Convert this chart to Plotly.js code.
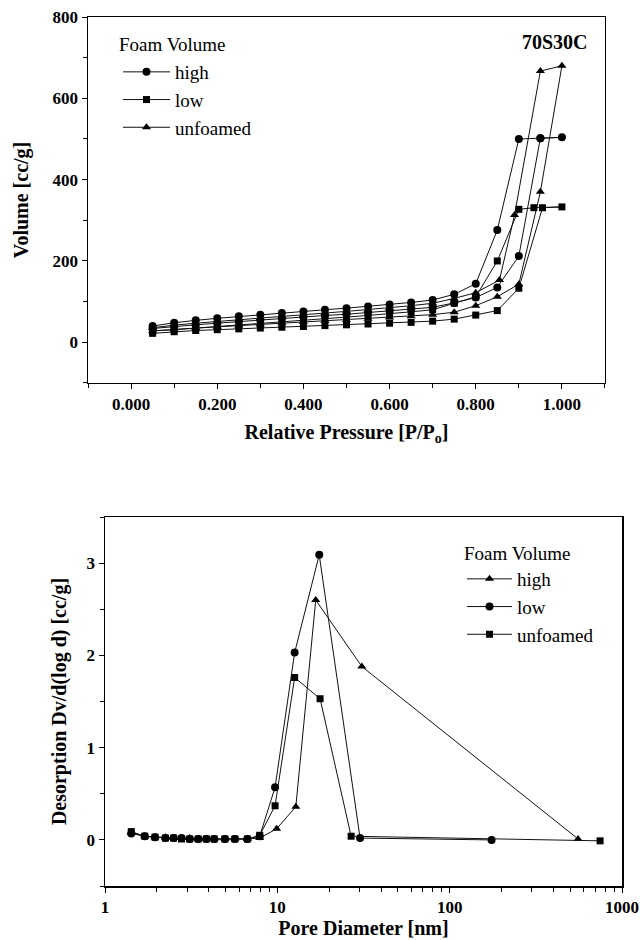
<!DOCTYPE html>
<html>
<head>
<meta charset="utf-8">
<script src="https://cdn.plot.ly/plotly-3.0.1.min.js"></script>
<style>html,body{margin:0;padding:0;background:#fff;}#chart{width:640px;height:940px;}</style>
</head>
<body>
<div id="chart"></div>
<script>
// ---- Top panel: isotherms (adsorption branch then desorption branch) ----
const highP = [0.05,0.10,0.15,0.20,0.25,0.30,0.35,0.40,0.45,0.50,0.55,0.60,0.65,0.70,0.75,0.80,0.85,0.90,0.95,1.00,
               0.95,0.90,0.85,0.80,0.75,0.70,0.65,0.60,0.55,0.50,0.45,0.40,0.35,0.30,0.25,0.20,0.15,0.10,0.05];
const highV = [34,39,43,47,51,55,59,62,66,69,73,77,81,86,97,110,135,212,502,504,
               502,500,276,144,118,104,98,93,88,84,80,76,72,68,64,59,54,48,40];
const lowP  = [0.05,0.10,0.15,0.20,0.25,0.30,0.35,0.40,0.45,0.50,0.55,0.60,0.65,0.70,0.75,0.80,0.85,0.90,0.955,1.00,
               0.935,0.90,0.85,0.80,0.75,0.70,0.65,0.60,0.55,0.50,0.45,0.40,0.35,0.30,0.25,0.20,0.15,0.10,0.05];
const lowV  = [22,26,29,31,33,35,37,39,41,43,45,47,49,52,57,67,78,133,331,333,
               331,327,200,112,96,80,75,70,66,62,58,54,50,46,42,38,34,31,28];
const unfP  = [0.05,0.10,0.15,0.20,0.25,0.30,0.35,0.40,0.45,0.50,0.55,0.60,0.65,0.70,0.75,0.80,0.85,0.90,0.95,1.00,
               0.95,0.89,0.855,0.80,0.75,0.70,0.65,0.60,0.55,0.50,0.45,0.40,0.35,0.30,0.25,0.20,0.15,0.10,0.05];
const unfV  = [28,32,35,38,41,44,47,50,53,55,58,61,64,68,74,90,112,143,370,680,
               667,313,153,122,108,96,90,85,80,76,72,68,64,60,56,52,47,42,36];

// ---- Bottom panel: BJH desorption pore size distribution ----
const poreHigh = [1.42,1.70,1.95,2.24,2.50,2.78,3.10,3.47,3.87,4.30,4.96,5.67,6.70,7.90,9.9,12.8,16.7,30.9,556];
const dvHigh   = [0.08,0.04,0.03,0.03,0.02,0.02,0.02,0.01,0.01,0.01,0.01,0.01,0.01,0.02,0.12,0.36,2.60,1.88,0.01];
const poreLow  = [1.42,1.70,1.95,2.24,2.50,2.78,3.10,3.47,3.87,4.30,4.96,5.67,6.70,7.90,9.7,12.6,17.5,30.2,175];
const dvLow    = [0.07,0.04,0.03,0.02,0.02,0.02,0.01,0.01,0.01,0.01,0.01,0.01,0.01,0.04,0.57,2.03,3.09,0.02,0.00];
const poreUnf  = [1.42,1.70,1.95,2.24,2.50,2.78,3.10,3.47,3.87,4.30,4.96,5.67,6.70,7.90,9.7,12.6,17.7,26.8,746];
const dvUnf    = [0.09,0.04,0.03,0.02,0.02,0.01,0.01,0.01,0.01,0.01,0.01,0.01,0.01,0.05,0.37,1.76,1.53,0.04,-0.01];

const seriesNames = ['high','low','unfoamed'];
const logTicks = [1,10,100,1000];
const logTickText = ['1','10','100','1000'];
const logMinor = [2,3,4,5,6,7,8,9,20,30,40,50,60,70,80,90,200,300,400,500,600,700,800,900];

const FONT = 'Liberation Serif, Times New Roman, Times, serif';
const lineStyle = {color:'#111', width:1};

function tr(x,y,name,symbol,size,xa,ya,leg){
  return {x:x,y:y,name:name,type:'scatter',mode:'lines+markers',
    line:lineStyle,marker:{symbol:symbol,size:size,color:'#000'},
    xaxis:xa,yaxis:ya,legend:leg};
}

const data = [
  tr(highP,highV,seriesNames[0],'circle',8,'x','y','legend'),
  tr(lowP,lowV,seriesNames[1],'square',7,'x','y','legend'),
  tr(unfP,unfV,seriesNames[2],'triangle-up',8,'x','y','legend'),
  tr(poreHigh,dvHigh,seriesNames[0],'triangle-up',8,'x2','y2','legend2'),
  tr(poreLow,dvLow,seriesNames[1],'circle',8,'x2','y2','legend2'),
  tr(poreUnf,dvUnf,seriesNames[2],'square',7,'x2','y2','legend2')
];

const axBase = {showline:true, linecolor:'#000', linewidth:1.5, mirror:true,
  ticks:'outside', ticklen:5, tickwidth:1, tickcolor:'#000', showgrid:false, zeroline:false,
  tickfont:{family:FONT,size:17,color:'#000',weight:'bold'}};
const titleFont = {family:FONT,size:20,color:'#000',weight:'bold'};
const legFont = {family:FONT,size:19,color:'#000'};

const layout = {
  width:640, height:940, margin:{l:0,r:0,t:0,b:0},
  paper_bgcolor:'#fff', plot_bgcolor:'#fff',
  font:{family:FONT,color:'#000'},
  showlegend:true,
  xaxis:Object.assign({}, axBase, {domain:[0.1375,0.9453], anchor:'y', range:[-0.1,1.1],
    tick0:0, dtick:0.2, tickformat:'.3f',
    minor:{dtick:0.1, ticks:'outside', ticklen:4, tickcolor:'#000'},
    title:{text:'Relative Pressure [P/P<sub>o</sub>]', font:titleFont, standoff:12}}),
  yaxis:Object.assign({}, axBase, {domain:[0.5926,0.9819], anchor:'x', range:[-100,800],
    tick0:0, dtick:200,
    minor:{dtick:100, ticks:'outside', ticklen:4, tickcolor:'#000'},
    title:{text:'Volume [cc/g]', font:titleFont, standoff:18}}),
  xaxis2:Object.assign({}, axBase, {domain:[0.1641,0.9719], anchor:'y2', type:'log', range:[0,3],
    tickvals:logTicks, ticktext:logTickText,
    minor:{tickvals:logMinor, ticks:'outside', ticklen:4, tickcolor:'#000'},
    title:{text:'Pore Diameter [nm]', font:titleFont, standoff:1}}),
  yaxis2:Object.assign({}, axBase, {domain:[0.0574,0.45], anchor:'x2', range:[-0.5,3.5],
    tick0:0, dtick:1,
    minor:{dtick:0.5, ticks:'outside', ticklen:4, tickcolor:'#000'},
    title:{text:'Desorption Dv/d(log d) [cc/g]', font:titleFont, standoff:14}}),
  legend:{x:118/640, y:(940-53)/940, xanchor:'left', yanchor:'top', bgcolor:'rgba(0,0,0,0)',
    itemwidth:47, font:legFont, borderwidth:0},
  legend2:{x:462/640, y:(940-560)/940, xanchor:'left', yanchor:'top', bgcolor:'rgba(0,0,0,0)',
    itemwidth:45, font:legFont, borderwidth:0},
  annotations:[
    {text:'<b>70S30C</b>', xref:'paper', yref:'paper', x:590/640, y:(940-42)/940,
     xanchor:'right', yanchor:'middle', showarrow:false, font:{family:FONT,size:20,color:'#000'}},
    {text:'Foam Volume', xref:'paper', yref:'paper', x:117/640, y:(940-45)/940,
     xanchor:'left', yanchor:'middle', showarrow:false, font:legFont},
    {text:'Foam Volume', xref:'paper', yref:'paper', x:462/640, y:(940-553)/940,
     xanchor:'left', yanchor:'middle', showarrow:false, font:legFont}
  ]
};

Plotly.newPlot('chart', data, layout, {displayModeBar:false, staticPlot:true});
</script>
</body>
</html>
